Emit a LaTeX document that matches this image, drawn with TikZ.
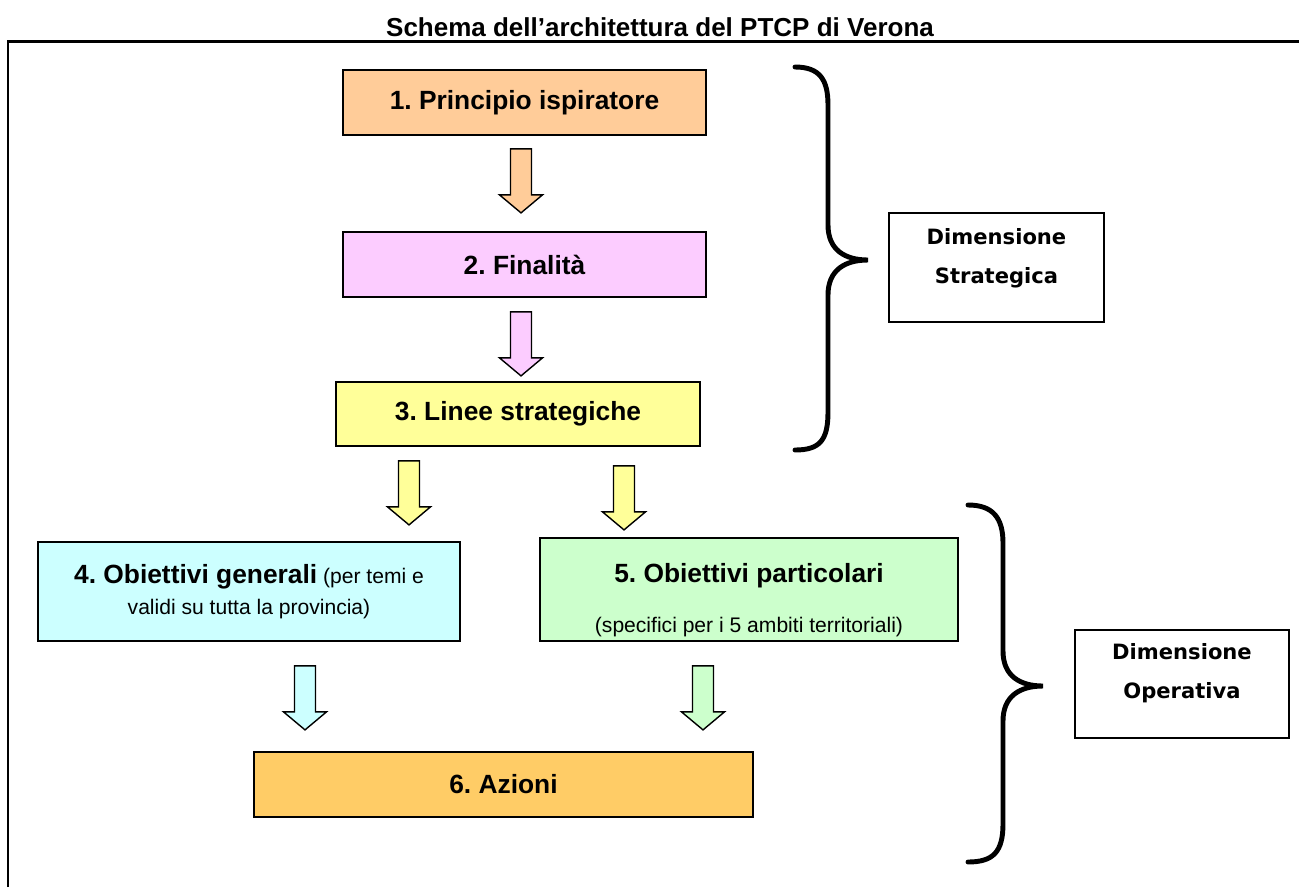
\documentclass[tikz,border=0pt]{standalone}
\usepackage{fontspec}
\setmainfont{Liberation Sans}
\newfontfamily\verdfont{DejaVu Sans}
\usepackage{tikz}
\usetikzlibrary{calc}
\definecolor{peach}{HTML}{FFCC99}
\definecolor{lilac}{HTML}{FCCCFF}
\definecolor{lemon}{HTML}{FFFF99}
\definecolor{aqua}{HTML}{CCFFFF}
\definecolor{mint}{HTML}{CCFFCC}
\definecolor{amber}{HTML}{FFCC66}
\frenchspacing

\begin{document}
\begin{tikzpicture}[x=0.02cm, y=-0.02cm,
  level/.style={draw, line width=1pt, font=\fontsize{15}{18}\selectfont\bfseries, align=center, inner sep=0pt},
  dimbox/.style={draw, line width=0.9pt, fill=white},
  dimtext/.style={font=\verdfont\fontsize{12}{22}\selectfont\bfseries, align=center},
  brace/.style={line width=2.8pt, line cap=round},
  downarr/.pic={\path[pic actions] (-10.5,0) -- (10.5,0) -- (10.5,46) -- (21.5,46) -- (0,64) -- (-21.5,46) -- (-10.5,46) -- cycle;}]
  \useasboundingbox (0,0) rectangle (1299,887);
  \node (title) at (660,27) {\fontsize{14.8}{16}\selectfont\bfseries Schema dell’architettura del PTCP di Verona};
  \draw[line width=1.7pt] (8,887) -- (8,41) -- (1299,41);
  % strategic levels
  \node[level, fill=peach, minimum width=7.26cm, minimum height=1.3cm] (b1) at (524.5,102.5) {1. Principio ispiratore};
  \node[level, fill=lilac, minimum width=7.26cm, minimum height=1.3cm] (b2) at (524.5,264.5) {2. Finalità};
  \node[level, fill=lemon, minimum width=7.28cm, minimum height=1.28cm] (b3) at (518,414) {3. Linee strategiche};
  % operative levels
  \node[level, fill=aqua, minimum width=8.44cm, minimum height=1.98cm, font=\fontsize{12}{18}\selectfont] (b4) at (249,591.5)
    {{\fontsize{15}{18}\selectfont\bfseries 4. Obiettivi generali} (per temi e\\validi su tutta la provincia)};
  \node[level, fill=mint, minimum width=8.36cm, minimum height=2.06cm] (b5) at (749,589.5) {};
  \node[font=\fontsize{15}{18}\selectfont\bfseries] (b5t) at ($(b5.north)+(0,39)$) {5. Obiettivi particolari};
  \node[font=\fontsize{12}{14}\selectfont] (b5s) at ($(b5.south)+(0,-15)$) {(specifici per i 5 ambiti territoriali)};
  \node[level, fill=amber, minimum width=9.98cm, minimum height=1.3cm] (b6) at (503.5,784.5) {6. Azioni};
  % block arrows
  \pic[draw, fill=peach, line width=0.8pt] at ($(b1.south)+(-3.5,13)$) {downarr};
  \pic[draw, fill=lilac, line width=0.8pt] at ($(b2.south)+(-3.5,14)$) {downarr};
  \pic[draw, fill=lemon, line width=0.8pt] at ($(b3.south)+(-109,14)$) {downarr};
  \pic[draw, fill=lemon, line width=0.8pt] at ($(b3.south)+(106,19)$) {downarr};
  \pic[draw, fill=aqua, line width=0.8pt] at ($(b4.south)+(56,24)$) {downarr};
  \pic[draw, fill=mint, line width=0.8pt] at ($(b5.south)+(-46,24)$) {downarr};
  % braces and dimensions
  \draw[brace] (795,67) .. controls (820,67) and (828,80) .. (828,105) -- (828,225)
    .. controls (828,250) and (845,260) .. (868,260) .. controls (845,260) and (828,270) .. (828,295)
    -- (828,412) .. controls (828,440) and (820,450) .. (795,450);
  \draw[brace] (968,505) .. controls (993,505) and (1003,518) .. (1003,543) -- (1003,651)
    .. controls (1003,676) and (1020,686) .. (1043,686) .. controls (1020,686) and (1003,696) .. (1003,721)
    -- (1003,824) .. controls (1003,852) and (993,862) .. (968,862);
  \node[dimbox, minimum width=4.3cm, minimum height=2.18cm] (dimS) at (996.5,267.5) {};
  \node[dimtext] at ($(dimS)+(0,-9)$) {Dimensione\\Strategica};
  \node[dimbox, minimum width=4.28cm, minimum height=2.16cm] (dimO) at (1182,684) {};
  \node[dimtext] at ($(dimO)+(0,-11)$) {Dimensione\\Operativa};
\end{tikzpicture}
\end{document}
